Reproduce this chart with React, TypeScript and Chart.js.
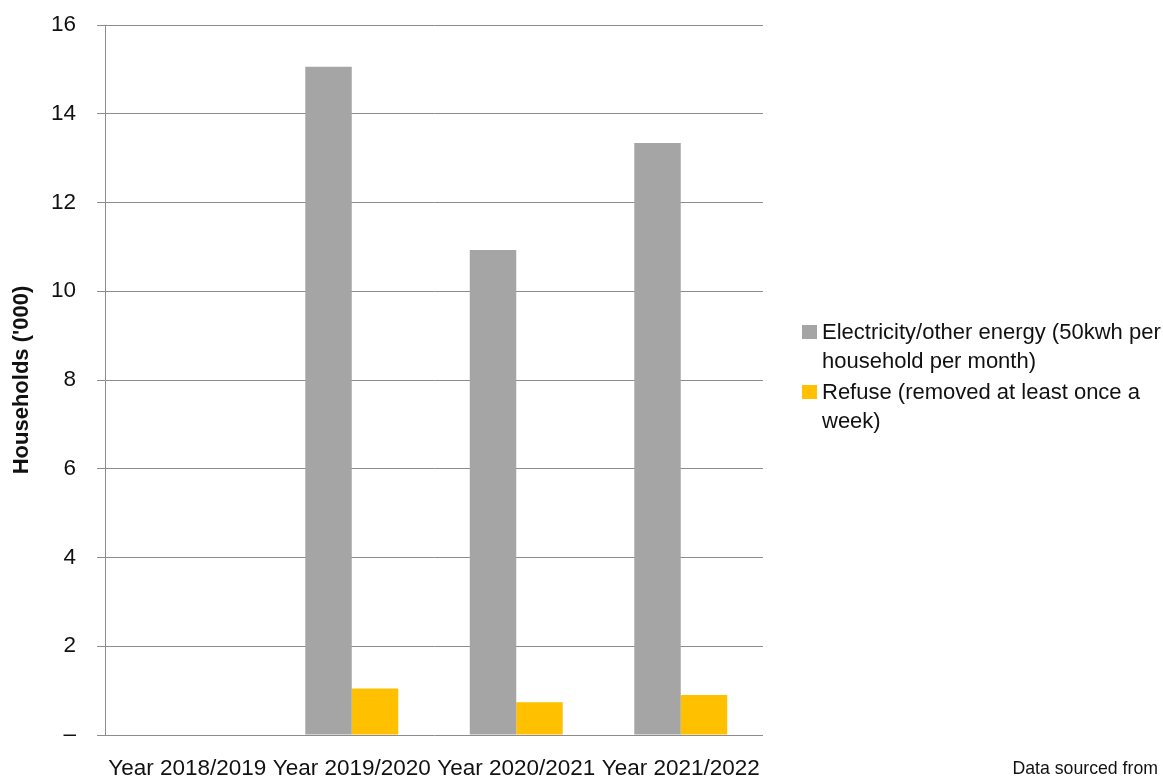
import React, { useEffect, useRef } from "react";
import { Chart, registerables } from "chart.js";

Chart.register(...registerables);

const categories = ["Year 2018/2019", "Year 2019/2020", "Year 2020/2021", "Year 2021/2022"];
const electricity = [null, 15.06, 10.93, 13.34];
const refuse = [null, 1.05, 0.74, 0.9];
const seriesNames = [
  ["Electricity/other energy (50kwh per", "household per month)"],
  ["Refuse (removed at least once a", "week)"],
];
const seriesColors = ["#A5A5A5", "#FFC000"];
const yTitle = "Households ('000)";
const footnote = "Data sourced from";

const FONT = "'Liberation Sans', Arial, sans-serif";
const TEXT = "#111111";
const GRID = "#8c8c8c";

export default function App() {
  const ref = useRef<HTMLCanvasElement | null>(null);

  useEffect(() => {
    document.body.style.margin = "0";
    const canvas = ref.current;
    if (!canvas) return;
    const chart = new Chart(canvas, {
      type: "bar",
      data: {
        labels: categories,
        datasets: [
          {
            label: seriesNames[0].join(" "),
            data: electricity as any,
            backgroundColor: seriesColors[0],
            borderWidth: 0,
            barPercentage: 1,
            categoryPercentage: 0.565,
          },
          {
            label: seriesNames[1].join(" "),
            data: refuse as any,
            backgroundColor: seriesColors[1],
            borderWidth: 0,
            barPercentage: 1,
            categoryPercentage: 0.565,
          },
        ],
      },
      options: {
        responsive: false,
        animation: false,
        layout: { padding: { left: 0, top: 25, right: 400, bottom: 0 } },
        plugins: {
          legend: { display: false },
          tooltip: { enabled: false },
          title: { display: false },
        },
        scales: {
          x: {
            grid: { display: false, drawTicks: false },
            border: { display: false },
            ticks: {
              font: { family: FONT, size: 22.5 },
              color: TEXT,
              padding: 20,
              autoSkip: false,
              maxRotation: 0,
              minRotation: 0,
            },
            afterFit: (s: any) => {
              s.height = 44;
              s.paddingLeft = 0;
              s.paddingRight = 0;
            },
          },
          y: {
            min: 0,
            max: 16,
            grid: { color: GRID, lineWidth: 1, tickLength: 8, drawTicks: true },
            border: { display: true, color: GRID, width: 1 },
            ticks: {
              stepSize: 2,
              font: { family: FONT, size: 22.5 },
              color: TEXT,
              padding: 21,
              callback: (v: any) => (Number(v) === 0 ? "–" : String(v)),
            },
            title: {
              display: true,
              text: yTitle,
              font: { family: FONT, size: 22, weight: "bold" },
              color: TEXT,
              padding: { top: 9, bottom: 0 },
            },
            afterFit: (s: any) => {
              s.width = 105;
              s.paddingTop = 0;
              s.paddingBottom = 0;
            },
          },
        },
      },
    });
    return () => chart.destroy();
  }, []);

  const legendTops = [317, 377];

  return (
    <div style={{ position: "relative", width: 1163, height: 779, fontFamily: FONT, color: TEXT }}>
      <canvas ref={ref} width={1163} height={779} style={{ display: "block" }} />
      {seriesNames.map((lines, i) => (
        <div key={i} style={{ position: "absolute", left: 802, top: legendTops[i] }}>
          <div
            style={{
              position: "absolute",
              left: 0,
              top: 8,
              width: 15,
              height: 14,
              background: seriesColors[i],
            }}
          />
          <div style={{ position: "absolute", left: 20, top: 0, fontSize: 22, lineHeight: "29px", whiteSpace: "nowrap" }}>
            {lines.map((l, j) => (
              <div key={j}>{l}</div>
            ))}
          </div>
        </div>
      ))}
      <div
        style={{
          position: "absolute",
          right: 5,
          top: 757,
          fontSize: 17.7,
          lineHeight: "22px",
          whiteSpace: "nowrap",
        }}
      >
        {footnote}
      </div>
    </div>
  );
}
